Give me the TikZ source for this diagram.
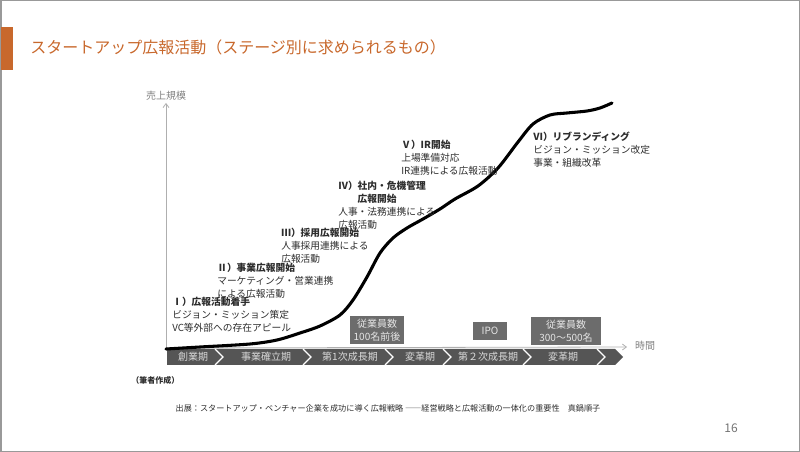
\documentclass[tikz,border=0pt]{standalone}
\usepackage{fontspec}
\setmainfont{Noto Sans CJK JP}
\usetikzlibrary{arrows.meta, positioning}
\definecolor{titleorange}{RGB}{200,104,44}
\definecolor{bardark}{RGB}{85,85,85}
\definecolor{boxgray}{RGB}{108,108,108}
\definecolor{axisgray}{RGB}{175,175,175}
\definecolor{textdark}{RGB}{45,45,45}
\tikzset{
  stagetxt/.style={anchor=north west, inner sep=0pt, align=left, text=textdark, font=\fontsize{7.3}{9.75}\selectfont},
  period/.style={text=white!85!black, inner sep=0pt, font=\fontsize{7.5}{9}\selectfont},
  staffbox/.style={fill=boxgray, text=white!90!black, align=center, inner sep=0pt, font=\fontsize{7.5}{9.75}\selectfont},
  axislabel/.style={text=gray, inner sep=0pt, font=\fontsize{7.5}{8}\selectfont},
  axis/.style={draw=axisgray, line width=0.6pt, -{Straight Barb[length=3pt, width=4.5pt]}},
  growth/.style={line width=2.3pt, line cap=round}
}

\begin{document}
\begin{tikzpicture}[x=0.75pt, y=-0.75pt]
  \useasboundingbox (0,0) rectangle (800,452);
  \draw[gray!80, line width=1.5pt] (0.5,0.5) rectangle (799.5,451.5);
  % title
  \fill[titleorange] (1,27) rectangle (13,70);
  \node[anchor=west, inner sep=0pt, text=titleorange, font=\fontsize{12}{14}\selectfont] (title) at (30,47) {スタートアップ広報活動（ステージ別に求められるもの）};
  % axes
  \coordinate (orig) at (166,348);
  \coordinate (ytop) at (166,103);
  \coordinate (xend) at (627,347);
  \draw[axis] (orig) -- (ytop);
  \draw[axis] (orig) -- (xend);
  \node[axislabel] (ylabel) at (166,96) {売上規模};
  \node[axislabel] (xlabel) at (645,346) {時間};
  % period bar
  \fill[bardark] (167,349) -- (615,349) -- (623,357) -- (615,365) -- (167,365) -- cycle;
  \foreach \b in {215,303,385,443,523,597}
    \draw[white, line width=1pt] (\b,349) -- (\b+8,357) -- (\b,365);
  \foreach \x/\t/\n in {193/創業期/p1, 266/事業確立期/p2, 350/第1次成長期/p3, 420/変革期/p4, 488/第２次成長期/p5, 563/変革期/p6}
    \node[period] (\n) at (\x,357) {\t};
  % growth curve
  \draw[growth] plot[smooth] coordinates {(166,349) (200,347) (250,344) (277,340) (300,333) (320,326) (340,315) (353,300) (367,277) (380,253) (393,238) (407,228) (423,219) (440,209) (455,199) (478,186) (498,168) (518,142) (533,124) (550,115) (567,113) (587,111) (600,108) (612,103)};
  % stages
  \node[stagetxt] (stage1) at (172,297) {\textbf{Ⅰ）広報活動着手}\\ビジョン・ミッション策定\\VC等外部への存在アピール};
  \node[stagetxt] (stage2) at (217,263) {\textbf{Ⅱ）事業広報開始}\\マーケティング・営業連携\\による広報活動};
  \node[stagetxt] (stage3) at (281,228) {\textbf{Ⅲ）採用広報開始}\\人事採用連携による\\広報活動};
  \node[stagetxt] (stage4) at (338,181) {\textbf{Ⅳ）社内・危機管理}\\\hspace*{2em}\textbf{広報開始}\\人事・法務連携による\\広報活動};
  \node[stagetxt] (stage5) at (401,140) {\textbf{Ⅴ）IR開始}\\上場準備対応\\IR連携による広報活動};
  \node[stagetxt] (stage6) at (533,132) {\textbf{Ⅵ）リブランディング}\\ビジョン・ミッション改定\\事業・組織改革};
  % milestones
  \node[staffbox, minimum width=40.5pt, minimum height=21pt] (staff100) at (377,330) {従業員数\\100名前後};
  \node[staffbox, minimum width=25pt, minimum height=13.5pt] (ipo) at (490,331) {IPO};
  \node[staffbox, minimum width=52pt, minimum height=21pt] (staff300) at (566,331) {従業員数\\300～500名};
  % notes
  \node[anchor=west, inner sep=0pt, text=textdark, font=\fontsize{6}{7}\selectfont\bfseries] (note) at (131,380) {（筆者作成）};
  \node[inner sep=0pt, text=textdark, font=\fontsize{6.1}{7}\selectfont] (source) at (388,408) {出展：スタートアップ・ベンチャー企業を成功に導く広報戦略\ ――経営戦略と広報活動の一体化の重要性　真鍋順子};
  \node[inner sep=0pt, text=gray!90!black, font=\fontsize{9}{10}\selectfont] (pagenum) at (731,428) {16};
\end{tikzpicture}
\end{document}
